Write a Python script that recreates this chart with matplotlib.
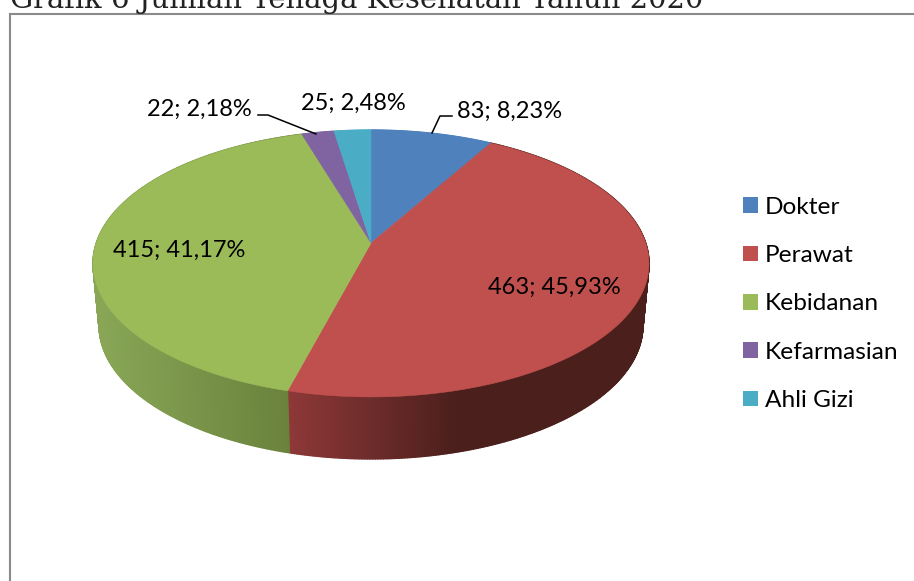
import numpy as np
import matplotlib
matplotlib.use('Agg')
import matplotlib.pyplot as plt
from matplotlib.patches import Patch
from matplotlib.collections import PolyCollection

categories = ['Dokter', 'Perawat', 'Kebidanan', 'Kefarmasian', 'Ahli Gizi']
values = [83, 463, 415, 22, 25]
percents = ['8,23%', '45,93%', '41,17%', '2,18%', '2,48%']
title = 'Grafik 6 Jumlah Tenaga Kesehatan Tahun 2020'

colors = ['#4F81BD', '#C0504D', '#9BBB59', '#8064A2', '#4BACC6']

plt.rcParams['font.family'] = ['Lato', 'DejaVu Sans']

# pie geometry in image pixels, with the perspective of the 3D view
CX, CY = 371.0, 243.0
A, B, K = 130.3, 274.7, 0.1535
DEPTH = 62.0
SHRINK = 0.978


def project(theta):
    """ Map clockwise angle from 12 o'clock to pixel coordinates on the top face """
    x, y = np.sin(theta), np.cos(theta)
    d = 1 + K * y
    return CX + B * x / d, CY - A * y / d


def project_bottom(theta):
    px, py = project(theta)
    return CX + (px - CX) * SHRINK, py + DEPTH


def mix(c0, c1, t):
    t = np.clip(t, 0, 1)
    return tuple((1 - t) * np.array(c0) / 255 + t * np.array(c1) / 255)


def side_color(i, px):
    # the rim gets darker from left to right
    if i == 2:
        return mix((136, 166, 86), (106, 130, 60), (px - 100) / 190)
    if i == 1:
        return mix((142, 56, 56), (75, 31, 28), (px - 289) / 170)
    return matplotlib.colors.to_rgb(colors[i])


fig = plt.figure(figsize=(9.14, 5.81), dpi=100)
ax = fig.add_axes([0, 0, 1, 1])
ax.set_xlim(0, 914)
ax.set_ylim(581, 0)
ax.axis('off')

# frame of the embedded chart, open at right and bottom
ax.plot([10, 10, 914], [581, 14, 14], color='#8a8a8a', lw=1.5, solid_capstyle='butt',
        solid_joinstyle='miter')

edges = 2 * np.pi * np.concatenate([[0], np.cumsum(values)]) / np.sum(values)

# rim first, the top face covers whatever is behind
for i in range(len(values)):
    th = np.linspace(edges[i], edges[i + 1], max(4, int((edges[i + 1] - edges[i]) * 120)))
    tx, ty = project(th)
    bx, by = project_bottom(th)
    quads, cols = [], []
    for j in range(len(th) - 1):
        quads.append([(tx[j], ty[j]), (tx[j + 1], ty[j + 1]), (bx[j + 1], by[j + 1]), (bx[j], by[j])])
        cols.append(side_color(i, tx[j]))
    ax.add_collection(PolyCollection(quads, facecolors=cols, edgecolors=cols, linewidths=1.0, zorder=2))

for i in range(len(values)):
    th = np.linspace(edges[i], edges[i + 1], 200)
    tx, ty = project(th)
    ax.fill(np.r_[CX, tx], np.r_[CY, ty], facecolor=colors[i], edgecolor=colors[i], lw=0.4, zorder=3)

# data labels
label_pos = [(509.5, 111), (554.5, 287), (179, 250), (199, 109), (353, 103)]
for i in range(len(values)):
    ax.text(label_pos[i][0], label_pos[i][1], '%d; %s' % (values[i], percents[i]),
            fontsize=17, color='black', ha='center', va='center', zorder=5)

# leader lines of the small slices
ax.plot([432, 440, 452], [133, 116, 116], color='black', lw=1.1, zorder=4)
ax.plot([258, 268, 316], [115, 115, 134], color='black', lw=1.1, zorder=4)

handles = [Patch(facecolor=c, edgecolor='none', label=n) for c, n in zip(colors, categories)]
ax.legend(handles=handles, loc='center left', bbox_to_anchor=(743, 304),
          bbox_transform=ax.transData, frameon=False, fontsize=17.6, borderpad=0, borderaxespad=0,
          handlelength=0.61, handleheight=0.61, handletextpad=0.3, labelspacing=1.12)

ax.text(10, 8, title, family='DejaVu Serif', fontsize=20.9, color='#222222', ha='left', va='baseline')

fig.savefig('out.png', dpi=100)
